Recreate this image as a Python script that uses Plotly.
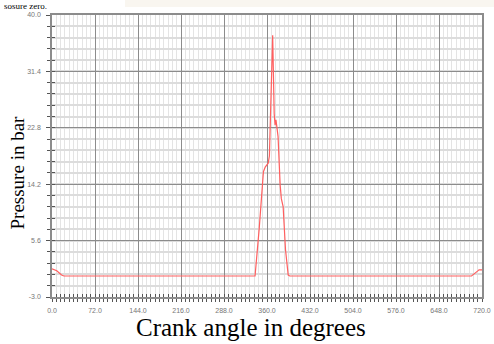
import plotly.graph_objects as go

# Crank angle (degrees) and cylinder pressure (bar)
crank_angle = [0, 2, 8, 16, 20, 100, 200, 300, 340, 347, 354, 357, 362, 364, 369.5, 372, 373.5,
               375, 376.5, 377.5, 378.5, 382, 384, 387, 391, 395.5, 398, 500, 600, 702.5, 712.5, 715, 720]
pressure = [1.3, 1.2, 1.0, 0.35, 0.2, 0.2, 0.2, 0.2, 0.2, 7.5, 16.1, 16.8, 17.4, 18.5, 36.9, 25.0, 23.2,
            24.0, 22.8, 22.3, 21.5, 14.1, 12.0, 10.8, 4.2, 0.35, 0.2, 0.2, 0.2, 0.2, 0.95, 1.15, 1.15]

x_ticks = [0, 72, 144, 216, 288, 360, 432, 504, 576, 648, 720]
x_tick_labels = ["0.0", "72.0", "144.0", "216.0", "288.0", "360.0", "432.0", "504.0", "576.0", "648.0", "720.0"]
y_ticks = [-3.0, 5.6, 14.2, 22.8, 31.4, 40.0]
y_tick_labels = ["-3.0", "5.6", "14.2", "22.8", "31.4", "40.0"]

x_title = "Crank angle in degrees"
y_title = "Pressure in bar"

fig = go.Figure()
fig.add_trace(go.Scatter(x=crank_angle, y=pressure, mode="lines",
                         line=dict(color="rgb(255,95,95)", width=1.2),
                         showlegend=False, hoverinfo="skip"))
# invisible trace on secondary axes for the inner half of the cross ticks
fig.add_trace(go.Scatter(x=[0, 720], y=[-3, 40], xaxis="x2", yaxis="y2", mode="markers",
                         marker=dict(opacity=0), showlegend=False, hoverinfo="skip"))

tickfont = dict(family="Liberation Sans, Arial", size=7, color="#777")

fig.update_layout(
    width=494, height=344,
    margin=dict(l=52, r=12, t=15, b=47, autoexpand=False),
    paper_bgcolor="white", plot_bgcolor="white",
    xaxis=dict(range=[0, 720], tickvals=x_ticks, ticktext=x_tick_labels, automargin=False,
               showgrid=True, gridcolor="#8c8c8c", gridwidth=1,
               ticks="outside", ticklen=3, tickcolor="#555", tickwidth=1,
               tickfont=tickfont, ticklabelstandoff=3,
               showline=True, linecolor="#8c8c8c", linewidth=1.5, mirror=True,
               zeroline=False,
               minor=dict(dtick=7.2, tick0=0, showgrid=True, gridcolor="#e4e4e4", gridwidth=1,
                          ticks="outside", ticklen=3, tickcolor="#555", tickwidth=1)),
    yaxis=dict(range=[-3, 40], tickvals=y_ticks, ticktext=y_tick_labels, automargin=False,
               showgrid=True, gridcolor="#8c8c8c", gridwidth=1,
               ticks="outside", ticklen=4, tickcolor="#555", tickwidth=1,
               tickfont=tickfont, ticklabelstandoff=4,
               showline=True, linecolor="#8c8c8c", linewidth=1.5, mirror=True,
               zeroline=False,
               minor=dict(dtick=1.72, tick0=-3, showgrid=True, gridcolor="#dcdcdc", gridwidth=1.5,
                          ticks="outside", ticklen=3, tickcolor="#555", tickwidth=1)),
    xaxis2=dict(range=[0, 720], overlaying="x", side="bottom", anchor="y2", automargin=False,
                showgrid=False, zeroline=False, showticklabels=False,
                ticks="inside", ticklen=3, tickcolor="#555", tickvals=x_ticks,
                minor=dict(dtick=7.2, tick0=0, ticks="inside", ticklen=3, tickcolor="#555")),
    yaxis2=dict(range=[-3, 40], overlaying="y", side="left", anchor="x2", automargin=False,
                showgrid=False, zeroline=False, showticklabels=False,
                ticks="inside", ticklen=3, tickcolor="#555", tickvals=y_ticks,
                minor=dict(dtick=1.72, tick0=-3, ticks="inside", ticklen=3, tickcolor="#555")),
    annotations=[
        dict(text=x_title, xref="paper", yref="paper", x=(250.5 - 52) / 430, y=-(327 - 297) / 282,
             xanchor="center", yanchor="middle", showarrow=False,
             font=dict(family="Liberation Serif, Times New Roman", size=25, color="black")),
        dict(text=y_title, xref="paper", yref="paper", x=-(52 - 17) / 430, y=(297 - 172.5) / 282,
             xanchor="center", yanchor="middle", showarrow=False, textangle=-90,
             font=dict(family="Liberation Serif, Times New Roman", size=19, color="black")),
        dict(text="sosure zero.", xref="paper", yref="paper", x=-50 / 430, y=(297 + 0.5) / 282,
             xanchor="left", yanchor="top", showarrow=False,
             font=dict(family="Liberation Serif, Times New Roman", size=9, color="black")),
    ],
    shapes=[
        dict(type="rect", xref="paper", yref="paper", x0=(125 - 52) / 430, x1=(494 - 52) / 430,
             y0=(297 - 7) / 282, y1=(297 + 2) / 282, fillcolor="rgba(236,226,205,0.3)",
             line=dict(width=0), layer="below"),
    ],
)

fig.write_html("out.html", config={"displayModeBar": False},
               post_script="document.body.style.margin='0';document.body.style.overflow='hidden';")
